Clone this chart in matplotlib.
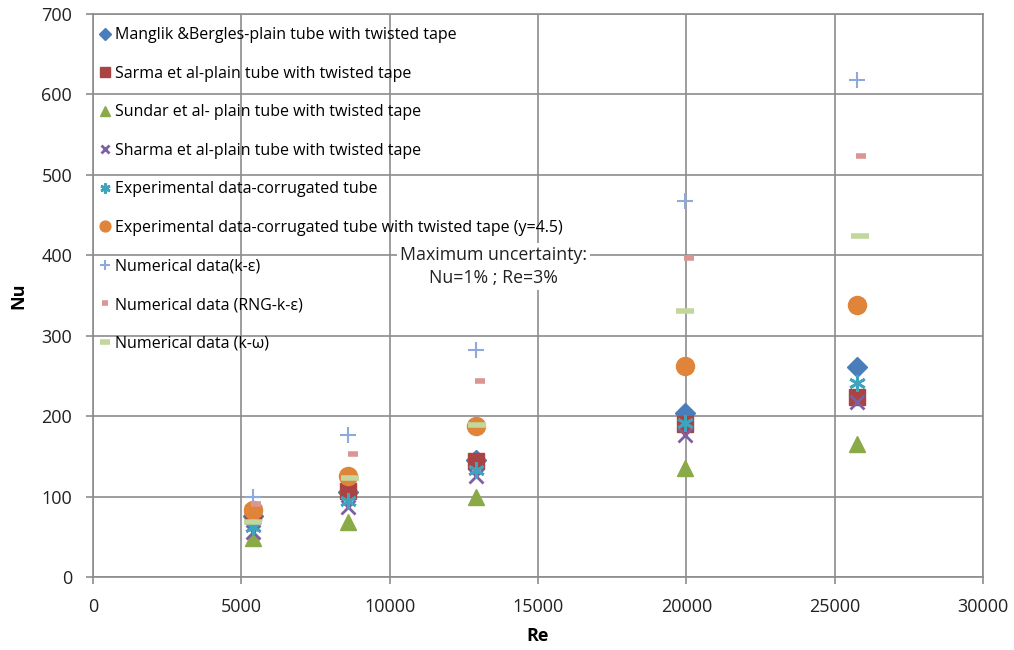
import matplotlib
matplotlib.use('Agg')
import matplotlib.pyplot as plt

plt.rcParams['font.family'] = ['Open Sans', 'DejaVu Sans']

# Nu vs Re for each data set
re_manglik = [5400, 8600, 12900, 19950, 25750]
nu_manglik = [76, 106, 145, 204, 261]

re_sarma = [5400, 8600, 12900, 19950, 25750]
nu_sarma = [80, 107, 144, 190, 224]

re_sundar = [5400, 8600, 12900, 19950, 25750]
nu_sundar = [48, 68, 100, 136, 165]

re_sharma = [5400, 8600, 12900, 19950, 25750]
nu_sharma = [56, 87, 125, 176, 217]

re_exp = [5400, 8600, 12900, 19950, 25750]
nu_exp = [62, 94, 133, 191, 241]

re_exp_tt = [5400, 8600, 12900, 19950, 25750]
nu_exp_tt = [83, 125, 188, 262, 338]

re_ke = [5400, 8600, 12900, 19950, 25750]
nu_ke = [100, 177, 282, 468, 618]

re_rng = [5500, 8750, 13050, 20100, 25900]
nu_rng = [91, 153, 244, 397, 524]

re_kw = [5400, 8650, 12950, 19950, 25850]
nu_kw = [68, 123, 189, 331, 424]

fig = plt.figure(figsize=(10.14, 6.5), dpi=100)
ax = fig.add_axes([0.0917, 0.1123, 0.8777, 0.8662])

# series drawn in legend order, later ones on top
ax.plot(re_manglik, nu_manglik, ls='none', marker='D', ms=10, color='#4A7EBB',
        label='Manglik &Bergles-plain tube with twisted tape')
ax.plot(re_sarma, nu_sarma, ls='none', marker='s', ms=12, color='#AA4443',
        label='Sarma et al-plain tube with twisted tape')
ax.plot(re_sundar, nu_sundar, ls='none', marker='^', ms=12, color='#8AAA48',
        label='Sundar et al- plain tube with twisted tape')
ax.plot(re_sharma, nu_sharma, ls='none', marker='x', ms=10, mew=2, color='#7E5FA0',
        label='Sharma et al-plain tube with twisted tape')
ax.plot(re_exp, nu_exp, ls='none', marker=(6, 2, 0), ms=12, mew=2, color='#40A4BE',
        label='Experimental data-corrugated tube')
ax.plot(re_exp_tt, nu_exp_tt, ls='none', marker='o', ms=13, color='#E0843A',
        label='Experimental data-corrugated tube with twisted tape (y=4.5)')
ax.plot(re_ke, nu_ke, ls='none', marker='+', ms=11, mew=1.5, color='#8EA9DB',
        label='Numerical data(k-ε)')
ax.plot(re_rng, nu_rng, ls='none', marker='_', ms=7, mew=4, color='#D99694',
        label='Numerical data (RNG-k-ε)')
ax.plot(re_kw, nu_kw, ls='none', marker='_', ms=13, mew=4, color='#C3D69B',
        label='Numerical data (k-ω)')

ax.set_xlim(0, 30000)
ax.set_ylim(0, 700)
ax.set_xticks(range(0, 30001, 5000))
ax.set_yticks(range(0, 701, 100))
ax.tick_params(labelsize=13, length=5, width=1.2, color='#8C8C8C', pad=10, labelcolor='#222222')
ax.grid(True, color='#8C8C8C', lw=1.2)
ax.set_axisbelow(True)
for s in ax.spines.values():
    s.set_color('#8C8C8C')
    s.set_linewidth(1.2)
ax.set_xlabel('Re', fontsize=13, fontweight='bold', labelpad=8)
ax.set_ylabel('Nu', fontsize=13, fontweight='bold', labelpad=10)

ax.legend(loc='upper left', bbox_to_anchor=(-0.005, 0.996), frameon=False, fontsize=11.5,
          labelspacing=1.41, handlelength=0.6, handletextpad=0.35,
          markerscale=0.6, borderaxespad=0.3)

ax.text(13500, 386, 'Maximum uncertainty:\nNu=1% ; Re=3%', ha='center', va='center',
        fontsize=12.8, linespacing=1.35, color='#222222',
        bbox=dict(facecolor='white', edgecolor='none', pad=2))

fig.savefig('out.png', dpi=100)
